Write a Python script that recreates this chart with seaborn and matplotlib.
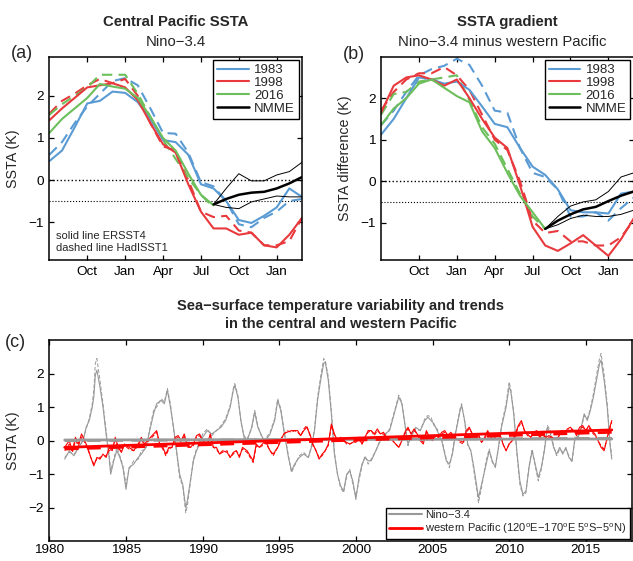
import matplotlib
matplotlib.use("Agg")
import matplotlib.pyplot as plt
from matplotlib.lines import Line2D
import seaborn as sns

# ---- panel (a) / (b) data: months counted from July (0 = Jul, 3 = Oct, 6 = Jan ...)
months = list(range(21))
months_2016 = list(range(14))
months_nmme = list(range(13, 21))
month_ticks = [3, 6, 9, 12, 15, 18]
month_labels = ["Oct", "Jan", "Apr", "Jul", "Oct", "Jan"]

# central Pacific SSTA (Nino-3.4)
a_1983_ersst = [0.45, 0.7, 1.25, 1.82, 1.88, 2.1, 2.07, 1.85, 1.45, 0.95, 0.9, 0.6, -0.1, -0.2, -0.5, -0.95, -1.02, -0.85, -0.65, -0.2, -0.4]
a_1983_had = [0.6, 0.9, 1.35, 1.75, 2.05, 2.35, 2.42, 2.25, 1.7, 1.12, 1.1, 0.65, -0.05, -0.15, -0.5, -1.05, -1.12, -0.9, -0.75, -0.5, -0.45]
a_1998_ersst = [1.42, 1.7, 1.95, 2.2, 2.25, 2.3, 2.2, 1.9, 1.35, 0.85, 0.65, -0.1, -0.75, -1.15, -1.15, -1.3, -1.25, -1.55, -1.6, -1.3, -0.9]
a_1998_had = [1.58, 1.88, 2.05, 2.25, 2.4, 2.3, 2.4, 2.0, 1.35, 0.8, 0.7, 0.0, -0.75, -0.88, -0.85, -1.2, -1.25, -1.55, -1.55, -1.45, -0.9]
a_2016_ersst = [1.12, 1.45, 1.7, 1.95, 2.28, 2.22, 2.17, 1.95, 1.5, 1.0, 0.7, 0.15, -0.35, -0.6]
a_2016_had = [1.55, 1.8, 2.0, 2.2, 2.5, 2.5, 2.5, 2.05, 1.5, 0.95, 0.5, 0.05, -0.35, -0.65]
a_nmme_mean = [-0.58, -0.45, -0.35, -0.3, -0.28, -0.2, -0.08, 0.07]
a_nmme_high = [-0.58, -0.2, 0.15, -0.02, -0.02, 0.12, 0.2, 0.42]
a_nmme_low = [-0.58, -0.65, -0.68, -0.52, -0.45, -0.38, -0.4, -0.4]

# SSTA gradient (Nino-3.4 minus western Pacific)
b_1983_ersst = [1.12, 1.5, 2.0, 2.5, 2.45, 2.35, 2.4, 2.2, 1.8, 1.38, 1.3, 0.8, 0.35, 0.15, -0.2, -0.7, -0.75, -0.75, -0.78, -0.3, -0.25]
b_1983_had = [1.35, 1.7, 2.15, 2.55, 2.7, 2.78, 2.95, 2.8, 2.3, 1.7, 1.65, 0.8, 0.2, 0.1, -0.2, -0.85, -0.85, -0.75, -0.95, -0.65, -0.4]
b_1998_ersst = [1.65, 2.3, 2.5, 2.55, 2.45, 2.3, 2.45, 2.0, 1.5, 1.05, 0.8, -0.1, -1.1, -1.55, -1.68, -1.5, -1.3, -1.55, -1.8, -1.4, -0.9]
b_1998_had = [1.7, 2.15, 2.45, 2.6, 2.6, 2.75, 2.55, 2.2, 1.6, 1.0, 0.75, 0.0, -0.95, -1.25, -1.2, -1.45, -1.45, -1.55, -1.55, -1.35, -0.95]
b_2016_ersst = [1.35, 1.75, 2.0, 2.35, 2.45, 2.25, 2.05, 1.9, 1.2, 0.8, 0.2, -0.35, -0.75, -1.15]
b_2016_had = [1.6, 2.1, 2.15, 2.4, 2.45, 2.5, 2.55, 1.95, 1.3, 0.9, 0.3, -0.3, -0.85, -1.15]
b_nmme_mean = [-1.15, -0.95, -0.8, -0.68, -0.62, -0.48, -0.35, -0.25]
b_nmme_high = [-1.15, -0.85, -0.6, -0.5, -0.45, -0.25, 0.1, 0.2]
b_nmme_low = [-1.15, -1.05, -0.9, -0.82, -0.85, -0.85, -0.8, -0.7]

# ---- panel (c) data
nino_years = [1981.0, 1981.3, 1981.6, 1981.9, 1982.2, 1982.4, 1982.6, 1982.8, 1982.9, 1983.0, 1983.1, 1983.3, 1983.5, 1983.7, 1983.9,
              1984.0, 1984.2, 1984.4, 1984.6, 1984.8, 1985.0, 1985.2, 1985.5, 1985.8, 1986.0, 1986.3, 1986.5, 1986.8, 1987.0, 1987.3,
              1987.5, 1987.7, 1987.9, 1988.1, 1988.3, 1988.5, 1988.7, 1988.9, 1989.0, 1989.2, 1989.4, 1989.6, 1989.8, 1990.0, 1990.3,
              1990.6, 1990.9, 1991.2, 1991.5, 1991.8, 1992.0, 1992.1, 1992.3, 1992.5, 1992.7, 1992.9, 1993.2, 1993.4, 1993.6, 1993.9,
              1994.1, 1994.4, 1994.7, 1994.9, 1995.1, 1995.3, 1995.6, 1995.8, 1996.0, 1996.3, 1996.6, 1996.9, 1997.1, 1997.3, 1997.5,
              1997.7, 1997.9, 1998.0, 1998.2, 1998.4, 1998.6, 1998.8, 1999.0, 1999.2, 1999.4, 1999.6, 1999.8, 2000.0, 2000.2, 2000.4,
              2000.6, 2000.8, 2001.0, 2001.3, 2001.6, 2001.9, 2002.2, 2002.5, 2002.8, 2003.0, 2003.2, 2003.4, 2003.6, 2003.9, 2004.2,
              2004.5, 2004.7, 2004.9, 2005.1, 2005.3, 2005.6, 2005.9, 2006.1, 2006.3, 2006.5, 2006.8, 2006.9, 2007.1, 2007.3, 2007.5,
              2007.7, 2007.9, 2008.0, 2008.2, 2008.5, 2008.7, 2008.9, 2009.1, 2009.3, 2009.5, 2009.8, 2010.0, 2010.1, 2010.3, 2010.5,
              2010.7, 2010.9, 2011.1, 2011.3, 2011.5, 2011.7, 2011.9, 2012.1, 2012.3, 2012.5, 2012.7, 2012.9, 2013.1, 2013.3, 2013.5,
              2013.7, 2013.9, 2014.1, 2014.3, 2014.5, 2014.7, 2014.9, 2015.1, 2015.3, 2015.5, 2015.7, 2015.9, 2016.0, 2016.2, 2016.4,
              2016.6, 2016.7]
nino_ersst = [-0.55, -0.3, -0.45, -0.2, 0.0, 0.4, 0.6, 1.0, 1.3, 1.95, 2.1, 1.6, 1.0, 0.2, -0.5,
              -1.0, -0.6, -0.3, -0.5, -0.8, -1.45, -0.8, -0.7, -0.5, -0.4, -0.2, 0.2, 0.8, 1.1, 1.2,
              1.1, 1.5, 1.0, 0.4, -0.3, -1.0, -1.3, -2.0, -1.8, -1.2, -0.6, -0.3, -0.1, 0.1, 0.3,
              0.2, 0.3, 0.4, 0.6, 1.0, 1.5, 1.65, 1.3, 0.6, 0.1, 0.0, 0.4, 0.85, 0.4, 0.1,
              0.0, 0.2, 0.6, 1.2, 0.9, 0.3, -0.5, -0.9, -0.7, -0.5, -0.4, -0.5, -0.2, 0.3, 1.2,
              1.8, 2.3, 2.35, 1.8, 0.8, -0.4, -1.0, -1.35, -1.5, -1.0, -0.9, -1.2, -1.75, -1.1, -0.7,
              -0.5, -0.6, -0.6, -0.3, 0.0, 0.2, 0.3, 0.8, 1.3, 1.1, 0.5, -0.1, 0.1, 0.4, 0.3,
              0.6, 0.7, 0.6, 0.5, 0.3, 0.0, -0.6, -0.7, -0.4, 0.2, 0.9, 1.05, 0.6, -0.1, -0.3,
              -0.8, -1.4, -1.7, -1.3, -0.7, -0.3, -0.6, -0.8, -0.2, 0.4, 1.0, 1.6, 1.5, 0.8, -0.3,
              -1.2, -1.6, -1.5, -0.8, -0.3, -0.7, -1.1, -0.8, -0.3, 0.4, 0.2, -0.2, -0.4, -0.2, -0.4,
              -0.2, -0.5, -0.6, 0.1, 0.1, 0.4, 0.8, 0.6, 0.9, 1.3, 1.8, 2.3, 2.4, 1.8, 1.0,
              -0.2, -0.55]
nino_had = [-0.5, -0.35, -0.4, -0.25, 0.05, 0.35, 0.65, 1.1, 1.5, 2.3, 2.45, 1.8, 1.1, 0.3, -0.4,
            -0.9, -0.55, -0.2, -0.45, -0.75, -1.3, -0.85, -0.6, -0.55, -0.3, -0.25, 0.25, 0.9, 1.0, 1.25,
            1.15, 1.55, 1.1, 0.35, -0.35, -1.1, -1.35, -2.15, -1.95, -1.25, -0.55, -0.25, -0.05, 0.2, 0.35,
            0.15, 0.3, 0.45, 0.65, 1.05, 1.55, 1.7, 1.35, 0.55, 0.15, 0.05, 0.35, 0.9, 0.45, 0.05,
            0.05, 0.25, 0.65, 1.25, 0.95, 0.35, -0.45, -0.95, -0.75, -0.45, -0.35, -0.5, -0.15, 0.35, 1.3,
            1.9, 2.45, 2.4, 1.9, 0.9, -0.35, -1.0, -1.4, -1.55, -1.05, -0.85, -1.3, -1.65, -1.2, -0.75,
            -0.45, -0.7, -0.55, -0.3, 0.05, 0.15, 0.35, 0.85, 1.35, 1.15, 0.45, -0.15, 0.15, 0.35, 0.3,
            0.65, 0.75, 0.7, 0.45, 0.35, 0.05, -0.55, -0.8, -0.35, 0.25, 0.95, 1.1, 0.55, -0.15, -0.3,
            -0.9, -1.5, -1.85, -1.4, -0.6, -0.25, -0.65, -0.75, -0.25, 0.45, 1.1, 1.75, 1.55, 0.85, -0.35,
            -1.3, -1.65, -1.55, -0.75, -0.25, -0.75, -1.2, -0.85, -0.25, 0.45, 0.3, -0.15, -0.45, -0.25, -0.35,
            -0.25, -0.45, -0.65, 0.05, 0.15, 0.35, 0.75, 0.65, 0.95, 1.4, 1.95, 2.45, 2.6, 1.95, 1.1,
            -0.1, -0.45]

wp_years = [1981.0, 1981.3, 1981.5, 1981.7, 1981.9, 1982.1, 1982.3, 1982.5, 1982.7, 1982.9, 1983.1, 1983.3, 1983.5, 1983.7, 1983.9,
            1984.1, 1984.3, 1984.5, 1984.7, 1984.9, 1985.2, 1985.5, 1985.8, 1986.0, 1986.2, 1986.4, 1986.6, 1986.8, 1987.0, 1987.2,
            1987.4, 1987.6, 1987.8, 1988.0, 1988.2, 1988.4, 1988.6, 1988.8, 1989.0, 1989.2, 1989.4, 1989.6, 1989.8, 1990.0, 1990.3,
            1990.5, 1990.7, 1990.9, 1991.1, 1991.3, 1991.6, 1991.8, 1992.0, 1992.2, 1992.4, 1992.6, 1992.9, 1993.1, 1993.3, 1993.5,
            1993.7, 1993.9, 1994.1, 1994.4, 1994.6, 1994.9, 1995.1, 1995.3, 1995.5, 1995.8, 1996.0, 1996.2, 1996.4, 1996.6, 1996.8,
            1997.0, 1997.2, 1997.4, 1997.6, 1997.8, 1998.0, 1998.2, 1998.4, 1998.6, 1998.8, 1999.0, 1999.2, 1999.4, 1999.6, 1999.8,
            2000.0, 2000.2, 2000.4, 2000.6, 2000.8, 2001.0, 2001.2, 2001.4, 2001.6, 2001.8, 2002.0, 2002.2, 2002.4, 2002.6, 2002.8,
            2003.0, 2003.2, 2003.4, 2003.6, 2003.8, 2004.0, 2004.2, 2004.4, 2004.6, 2004.8, 2005.0, 2005.2, 2005.4, 2005.6, 2005.8,
            2006.0, 2006.2, 2006.4, 2006.6, 2006.8, 2007.0, 2007.2, 2007.4, 2007.6, 2007.8, 2008.0, 2008.2, 2008.4, 2008.6, 2008.8,
            2009.0, 2009.2, 2009.4, 2009.6, 2009.8, 2010.0, 2010.2, 2010.4, 2010.6, 2010.8, 2011.0, 2011.2, 2011.4, 2011.6, 2011.8,
            2012.0, 2012.2, 2012.4, 2012.6, 2012.8, 2013.0, 2013.2, 2013.4, 2013.6, 2013.8, 2014.0, 2014.2, 2014.4, 2014.6, 2014.8,
            2015.0, 2015.2, 2015.4, 2015.6, 2015.8, 2016.0, 2016.2, 2016.4, 2016.6, 2016.7]
wp_ersst = [-0.2, 0.0, -0.3, 0.1, -0.1, 0.2, 0.0, -0.2, -0.5, -0.75, -0.5, -0.55, -0.4, -0.5, -0.2,
            -0.3, 0.1, -0.2, -0.35, -0.1, -0.2, -0.3, -0.1, 0.1, -0.1, 0.0, 0.1, 0.2, 0.3, -0.1,
            -0.2, -0.4, -0.2, -0.2, 0.1, 0.15, 0.0, 0.2, -0.15, -0.2, -0.1, 0.15, 0.2, 0.0, -0.1,
            0.2, -0.2, -0.2, -0.4, -0.3, -0.35, -0.5, -0.35, -0.3, -0.5, -0.2, -0.3, -0.45, -0.6, -0.1,
            -0.2, -0.1, 0.0, -0.3, -0.4, -0.2, 0.0, 0.2, 0.25, 0.3, 0.3, 0.3, 0.15, 0.3, 0.4,
            0.2, -0.1, -0.3, -0.55, -0.4, -0.3, -0.1, 0.5, 0.2, 0.0, 0.1, 0.0, -0.05, -0.1, -0.05,
            0.0, 0.1, -0.1, 0.1, 0.3, 0.3, 0.2, 0.35, 0.2, 0.25, 0.1, 0.1, 0.0, -0.1, -0.2,
            0.0, 0.25, 0.4, 0.2, 0.35, 0.2, 0.0, -0.1, 0.3, 0.1, 0.0, 0.15, 0.1, 0.25, 0.3,
            0.15, 0.25, 0.1, 0.05, 0.0, -0.05, 0.3, 0.4, 0.2, 0.1, 0.2, -0.05, 0.1, 0.3, 0.1,
            0.05, 0.2, 0.2, -0.1, -0.3, -0.1, 0.0, 0.2, 0.45, 0.6, 0.3, 0.2, 0.1, 0.25, 0.3,
            0.1, 0.2, 0.1, 0.15, 0.1, 0.05, 0.1, 0.3, 0.2, 0.35, 0.4, 0.3, 0.2, 0.4, 0.45,
            0.3, 0.45, 0.3, 0.2, 0.0, -0.2, -0.3, 0.1, 0.45, 0.6]
wp_had = [-0.3, -0.1, -0.35, 0.0, -0.15, 0.1, -0.05, -0.25, -0.5, -0.7, -0.55, -0.5, -0.45, -0.45, -0.3,
          -0.25, 0.0, -0.25, -0.3, -0.15, -0.25, -0.3, -0.15, 0.05, -0.15, -0.05, 0.05, 0.15, 0.25, -0.1,
          -0.25, -0.45, -0.25, -0.2, 0.05, 0.1, -0.05, 0.15, -0.2, -0.2, -0.15, 0.1, 0.15, 0.0, -0.15,
          0.15, -0.2, -0.25, -0.4, -0.35, -0.3, -0.5, -0.4, -0.3, -0.45, -0.25, -0.35, -0.5, -0.65, -0.15,
          -0.2, -0.15, -0.05, -0.3, -0.45, -0.2, 0.05, 0.2, 0.3, 0.25, 0.3, 0.25, 0.15, 0.35, 0.45,
          0.15, -0.15, -0.3, -0.5, -0.45, -0.3, -0.15, 0.45, 0.15, 0.0, 0.05, 0.0, -0.1, -0.1, -0.05,
          -0.05, 0.05, -0.1, 0.1, 0.25, 0.3, 0.15, 0.3, 0.2, 0.2, 0.1, 0.05, 0.0, -0.1, -0.2,
          0.0, 0.2, 0.35, 0.2, 0.3, 0.2, 0.05, -0.05, 0.25, 0.1, 0.05, 0.1, 0.1, 0.2, 0.25,
          0.15, 0.2, 0.1, 0.05, -0.05, -0.1, 0.25, 0.35, 0.2, 0.1, 0.15, -0.05, 0.05, 0.25, 0.1,
          0.05, 0.15, 0.2, -0.1, -0.3, -0.1, 0.0, 0.15, 0.4, 0.55, 0.3, 0.15, 0.1, 0.2, 0.25,
          0.1, 0.15, 0.1, 0.1, 0.1, 0.05, 0.1, 0.25, 0.2, 0.3, 0.35, 0.3, 0.15, 0.35, 0.4,
          0.3, 0.4, 0.25, 0.15, 0.0, -0.15, -0.25, 0.05, 0.4, 0.55]

# linear trends (end points)
trend_years = [1981.0, 2016.7]
nino_trend = [0.02, 0.05]
nino_trend_had = [0.0, 0.07]
wp_trend = [-0.2, 0.32]
wp_trend_had = [-0.25, 0.25]

# ---- styling
blue = "#5a9bd4"
red = "#e8393d"
green = "#6cbf5a"
grey = "#999999"
dash = (0, (5, 3))

sns.set_style("ticks")
plt.rcParams['font.family'] = ['Liberation Sans', 'DejaVu Sans']
plt.rcParams['mathtext.fontset'] = 'custom'
plt.rcParams['mathtext.rm'] = 'Liberation Sans'
plt.rcParams['axes.edgecolor'] = 'black'
plt.rcParams['axes.linewidth'] = 1.1


def style_axes(ax):
    ax.tick_params(direction='in', top=True, right=True, length=3.5, width=0.9,
                   labelsize=9.7, colors='black', pad=4)
    for s in ax.spines.values():
        s.set_visible(True)
        s.set_color('black')


fig = plt.figure(figsize=(6.33, 5.61), dpi=100)

ax_a = fig.add_axes([0.078, 0.5365, 0.399, 0.3625])
ax_b = fig.add_axes([0.602, 0.5365, 0.399, 0.3625])
ax_c = fig.add_axes([0.078, 0.035, 0.920, 0.359])

panels = [
    (ax_a, a_1983_ersst, a_1983_had, a_1998_ersst, a_1998_had, a_2016_ersst, a_2016_had,
     a_nmme_mean, a_nmme_high, a_nmme_low, (-1.9, 2.93), "SSTA (K)"),
    (ax_b, b_1983_ersst, b_1983_had, b_1998_ersst, b_1998_had, b_2016_ersst, b_2016_had,
     b_nmme_mean, b_nmme_high, b_nmme_low, (-1.9, 3.0), "SSTA difference (K)"),
]

for ax, e83, h83, e98, h98, e16, h16, nm, nh, nl, ylim, ylab in panels:
    ax.axhline(0, color='black', ls=':', lw=1.0)
    ax.axhline(-0.5, color='black', ls=':', lw=0.8)
    sns.lineplot(x=months, y=h83, color=blue, lw=1.5, linestyle=dash, ax=ax)
    sns.lineplot(x=months, y=h98, color=red, lw=1.5, linestyle=dash, ax=ax)
    sns.lineplot(x=months_2016, y=h16, color=green, lw=1.5, linestyle=dash, ax=ax)
    sns.lineplot(x=months, y=e83, color=blue, lw=1.5, ax=ax)
    sns.lineplot(x=months, y=e98, color=red, lw=1.5, ax=ax)
    sns.lineplot(x=months_2016, y=e16, color=green, lw=1.5, ax=ax)
    sns.lineplot(x=months_nmme, y=nh, color='black', lw=0.7, ax=ax)
    sns.lineplot(x=months_nmme, y=nl, color='black', lw=0.7, ax=ax)
    sns.lineplot(x=months_nmme, y=nm, color='black', lw=1.8, ax=ax)
    ax.set_xlim(0, 20)
    ax.set_ylim(*ylim)
    ax.set_xticks(month_ticks)
    ax.set_xticklabels(month_labels)
    ax.set_yticks([-1, 0, 1, 2])
    ax.set_yticklabels(['\u22121', '0', '1', '2'])
    ax.set_xlabel("")
    ax.set_ylabel(ylab, fontsize=10.3, labelpad=6)
    style_axes(ax)
    handles = [Line2D([], [], color=blue, lw=1.5), Line2D([], [], color=red, lw=1.5),
               Line2D([], [], color=green, lw=1.5), Line2D([], [], color='black', lw=1.8)]
    leg = ax.legend(handles, ["1983", "1998", "2016", "NMME"], loc='upper right', fontsize=9.5,
                    handlelength=2.4, handletextpad=0.4, labelspacing=0.05, borderpad=0.3,
                    borderaxespad=0.25, fancybox=False, framealpha=1, edgecolor='black')
    leg.get_frame().set_linewidth(1.0)

ax_a.text(0.025, 0.035, "solid line ERSST4\ndashed line HadISST1", transform=ax_a.transAxes,
          fontsize=8, ha='left', va='bottom', linespacing=1.25)

# titles
ax_a.text(0.5, 1.17, "Central Pacific SSTA", transform=ax_a.transAxes, ha='center', va='center',
          fontsize=10.7, fontweight='bold')
ax_a.text(0.5, 1.07, "Nino\u22123.4", transform=ax_a.transAxes, ha='center', va='center', fontsize=10.7)
ax_b.text(0.5, 1.17, "SSTA gradient", transform=ax_b.transAxes, ha='center', va='center',
          fontsize=10.7, fontweight='bold')
ax_b.text(0.48, 1.07, "Nino\u22123.4 minus western Pacific", transform=ax_b.transAxes, ha='center',
          va='center', fontsize=10.7)

# ---- panel (c)
sns.lineplot(x=nino_years, y=nino_had, color=grey, lw=0.7, linestyle=(0, (4, 2)), ax=ax_c)
sns.lineplot(x=nino_years, y=nino_ersst, color=grey, lw=0.8, ax=ax_c)
sns.lineplot(x=wp_years, y=wp_had, color='red', lw=0.7, linestyle=(0, (4, 2)), ax=ax_c)
sns.lineplot(x=wp_years, y=wp_ersst, color='red', lw=0.8, ax=ax_c)
sns.lineplot(x=trend_years, y=nino_trend_had, color=grey, lw=2.0, linestyle=dash, ax=ax_c)
sns.lineplot(x=trend_years, y=nino_trend, color=grey, lw=2.0, ax=ax_c)
sns.lineplot(x=trend_years, y=wp_trend_had, color='red', lw=2.0, linestyle=dash, ax=ax_c)
sns.lineplot(x=trend_years, y=wp_trend, color='red', lw=2.0, ax=ax_c)
ax_c.set_xlim(1980, 2018)
ax_c.set_ylim(-3, 3)
ax_c.set_xticks(list(range(1980, 2016, 5)))
ax_c.set_yticks([-2, -1, 0, 1, 2])
ax_c.set_yticklabels(['\u22122', '\u22121', '0', '1', '2'])
ax_c.set_xlabel("")
ax_c.set_ylabel("SSTA (K)", fontsize=10.3, labelpad=6)
style_axes(ax_c)
ax_c.tick_params(axis='x', pad=2)
handles_c = [Line2D([], [], color=grey, lw=1.5), Line2D([], [], color='red', lw=2.0)]
leg_c = ax_c.legend(handles_c, ["Nino\u22123.4",
                                r"western Pacific (120$^{\rm o}$E$-$170$^{\rm o}$E 5$^{\rm o}$S$-$5$^{\rm o}$N)"],
                    loc='lower right', fontsize=8, handlelength=3.0, handletextpad=0.3,
                    labelspacing=0.15, borderpad=0.25, borderaxespad=0.2, fancybox=False,
                    framealpha=1, edgecolor='black')
leg_c.get_frame().set_linewidth(1.0)

ax_c.text(0.5, 1.17, "Sea\u2212surface temperature variability and trends", transform=ax_c.transAxes,
          ha='center', va='center', fontsize=10.5, fontweight='bold')
ax_c.text(0.5, 1.08, "in the central and western Pacific", transform=ax_c.transAxes,
          ha='center', va='center', fontsize=10.5, fontweight='bold')

# panel letters
fig.text(0.035, 0.904, "(a)", fontsize=13, ha='center', va='center')
fig.text(0.559, 0.902, "(b)", fontsize=13, ha='center', va='center')
fig.text(0.024, 0.39, "(c)", fontsize=13, ha='center', va='center')

fig.savefig("out.png", dpi=100)
